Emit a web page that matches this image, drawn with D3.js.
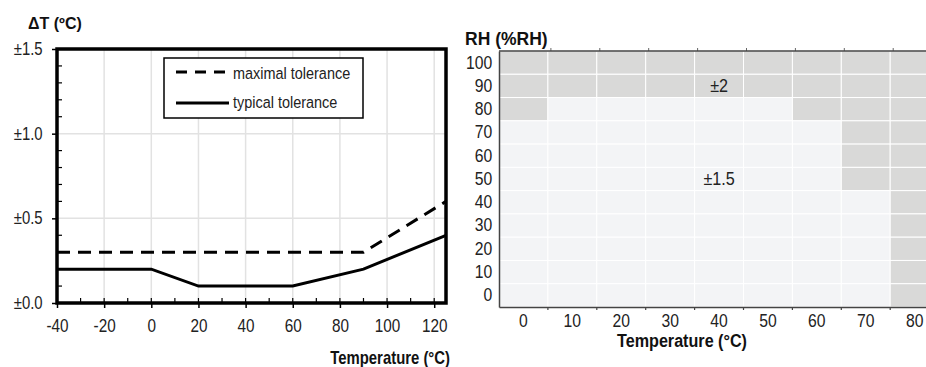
<!DOCTYPE html>
<html>
<head>
<meta charset="utf-8">
<script src="https://cdn.jsdelivr.net/npm/d3@7"></script>
<style>
  body { margin: 0; background: #fff; }
  text { font-family: Arial, "Liberation Sans", sans-serif; }
</style>
</head>
<body>
<div id="chart"></div>
<script>
// left chart: temperature accuracy
const maxTol = [[-40, 0.3], [90, 0.3], [125, 0.6]];
const typTol = [[-40, 0.2], [0, 0.2], [20, 0.1], [60, 0.1], [90, 0.2], [125, 0.4]];
const tTicks = [-40, -20, 0, 20, 40, 60, 80, 100, 120];
const dtTicks = [0, 0.5, 1.0, 1.5];

// right chart: humidity accuracy grid
const rhTemps = [0, 10, 20, 30, 40, 50, 60, 70, 80];
const rhLevels = [100, 90, 80, 70, 60, 50, 40, 30, 20, 10, 0];
// lowest RH row (per temperature) from which accuracy is ±2
const wideLimit = [80, 90, 90, 90, 90, 90, 80, 50, 0];

const NARROW = 'scale(0.85,1)'; // no narrow font installed, squeeze Arial instead
const width = 926, height = 367;
const svg = d3.select('#chart').append('svg')
    .attr('width', width)
    .attr('height', height);

// text squeezed horizontally around its anchor point
function label(g, px, py, str, size, opts = {}) {
    return g.append('text')
        .attr('transform', `translate(${px},${py}) ${opts.wide ? '' : NARROW}`)
        .attr('text-anchor', opts.anchor || 'start')
        .attr('font-size', size)
        .attr('font-weight', opts.bold ? 'bold' : null)
        .attr('fill', opts.bold ? '#111' : '#222')
        .text(str);
}

// ---------- left ----------
const x = d3.scaleLinear().domain([-40, 125]).range([57, 446]);
const y = d3.scaleLinear().domain([0, 1.5]).range([303, 49]);

const left = svg.append('g');

// grid
left.append('g').selectAll('line')
    .data(tTicks.slice(1))
    .enter().append('line')
    .attr('x1', d => x(d)).attr('x2', d => x(d))
    .attr('y1', y(0)).attr('y2', y(1.5))
    .attr('stroke', '#e2e2e2').attr('stroke-width', 1.5);
left.append('g').selectAll('line')
    .data([0.5, 1.0])
    .enter().append('line')
    .attr('x1', x(-40)).attr('x2', x(125))
    .attr('y1', d => y(d)).attr('y2', d => y(d))
    .attr('stroke', '#e2e2e2').attr('stroke-width', 1.5);

// minor ticks inward
left.append('g').selectAll('line')
    .data(d3.range(1, 15).map(i => i / 10).filter(v => Math.round(v * 10) % 5 !== 0))
    .enter().append('line')
    .attr('x1', x(-40)).attr('x2', x(-40) + 5)
    .attr('y1', d => y(d)).attr('y2', d => y(d))
    .attr('stroke', '#000').attr('stroke-width', 1.2);
left.append('g').selectAll('line')
    .data(d3.range(-30, 125, 10))
    .enter().append('line')
    .attr('x1', d => x(d)).attr('x2', d => x(d))
    .attr('y1', y(0)).attr('y2', y(0) - 5)
    .attr('stroke', '#000').attr('stroke-width', 1.2);

// axes
left.append('g')
    .attr('transform', `translate(0,${y(0)})`)
    .call(d3.axisBottom(x).tickValues(tTicks).tickSize(5).tickPadding(11).tickFormat(d => String(d)))
    .call(g => g.select('.domain').remove())
    .call(g => g.selectAll('line').attr('stroke-width', 1.5))
    .call(g => g.selectAll('text').attr('font-size', 18).attr('fill', '#222')
        .attr('font-family', null).attr('transform', NARROW));
left.append('g')
    .attr('transform', `translate(${x(-40)},0)`)
    .call(d3.axisLeft(y).tickValues(dtTicks).tickSize(5).tickPadding(12).tickFormat(d => '±' + d.toFixed(1)))
    .call(g => g.select('.domain').remove())
    .call(g => g.selectAll('line').attr('stroke-width', 1.5))
    .call(g => g.selectAll('text').attr('font-size', 17.5).attr('fill', '#222')
        .attr('font-family', null).attr('transform', NARROW));

// lines
const line = d3.line().x(d => x(d[0])).y(d => y(d[1]));
left.append('path').datum(maxTol)
    .attr('d', line).attr('fill', 'none')
    .attr('stroke', '#000').attr('stroke-width', 3)
    .attr('stroke-dasharray', '13,8');
left.append('path').datum(typTol)
    .attr('d', line).attr('fill', 'none')
    .attr('stroke', '#000').attr('stroke-width', 3);

// frame
left.append('rect')
    .attr('x', x(-40)).attr('y', y(1.5))
    .attr('width', x(125) - x(-40)).attr('height', y(0) - y(1.5))
    .attr('fill', 'none').attr('stroke', '#000').attr('stroke-width', 3.5);

// legend
const lg = left.append('g');
lg.append('rect').attr('x', 164).attr('y', 58).attr('width', 199).attr('height', 60)
    .attr('fill', '#fff').attr('stroke', '#000').attr('stroke-width', 1.5);
lg.append('line').attr('x1', 176).attr('x2', 229).attr('y1', 72).attr('y2', 72)
    .attr('stroke', '#000').attr('stroke-width', 3).attr('stroke-dasharray', '11,8');
lg.append('line').attr('x1', 176).attr('x2', 229).attr('y1', 103).attr('y2', 103)
    .attr('stroke', '#000').attr('stroke-width', 3);
label(lg, 233, 79, 'maximal tolerance', 17);
label(lg, 233, 108, 'typical tolerance', 17);

label(left, 28, 29, 'ΔT (ºC)', 16, { bold: true, wide: true });
label(left, 450, 364, 'Temperature (°C)', 17.5, { bold: true, anchor: 'end' });

// ---------- right ----------
const cx = d3.scaleBand().domain(rhTemps).range([499, 499 + 9 * 48.9]);
const cy = d3.scaleBand().domain(rhLevels).range([51, 307]);

const right = svg.append('g');
const cells = [];
rhTemps.forEach((t, i) => {
    rhLevels.forEach(r => cells.push({ t, r, wide: r >= wideLimit[i] }));
});

right.append('g').selectAll('rect')
    .data(cells)
    .enter().append('rect')
    .attr('x', d => cx(d.t)).attr('y', d => cy(d.r))
    .attr('width', cx.bandwidth()).attr('height', cy.bandwidth())
    .attr('fill', d => d.wide ? '#d9d9d8' : '#f3f4f6')
    .attr('stroke', '#fff').attr('stroke-width', 1);

right.append('g')
    .attr('transform', `translate(0,${cy.range()[1]})`)
    .call(d3.axisBottom(cx).tickSize(0).tickPadding(7))
    .call(g => g.select('.domain').attr('stroke', '#444').attr('stroke-width', 1.5))
    .call(g => g.selectAll('text').attr('font-size', 18.5).attr('fill', '#222')
        .attr('font-family', null).attr('transform', NARROW));
// boundary ticks bottom and top
const bounds = rhTemps.map(t => cx(t) + cx.bandwidth());
right.append('g').selectAll('line')
    .data(bounds).enter().append('line')
    .attr('x1', d => d).attr('x2', d => d)
    .attr('y1', 307).attr('y2', 310)
    .attr('stroke', '#444').attr('stroke-width', 1.2);
right.append('g').selectAll('line')
    .data(bounds).enter().append('line')
    .attr('x1', d => d + 3).attr('x2', d => d + 3)
    .attr('y1', 51).attr('y2', 48)
    .attr('stroke', '#666').attr('stroke-width', 1);
right.append('line').attr('x1', 499).attr('x2', 926).attr('y1', 51).attr('y2', 51)
    .attr('stroke', '#444').attr('stroke-width', 1.5);

right.append('g')
    .attr('transform', 'translate(499,0)')
    .call(d3.axisLeft(cy).tickSize(0).tickPadding(8))
    .call(g => g.select('.domain').attr('stroke', '#444').attr('stroke-width', 1.5))
    .call(g => g.selectAll('text').attr('font-size', 18.5).attr('fill', '#222')
        .attr('font-family', null).attr('transform', NARROW));

label(right, cx(40) + cx.bandwidth() / 2, cy(90) + cy.bandwidth() / 2 + 6, '±2', 19, { anchor: 'middle' });
label(right, cx(40) + cx.bandwidth() / 2, cy(50) + cy.bandwidth() / 2 + 6, '±1.5', 19, { anchor: 'middle' });

label(right, 465, 45, 'RH (%RH)', 17.5, { bold: true, wide: true });
label(right, 682, 347, 'Temperature (°C)', 19, { bold: true, anchor: 'middle' });
</script>
</body>
</html>
